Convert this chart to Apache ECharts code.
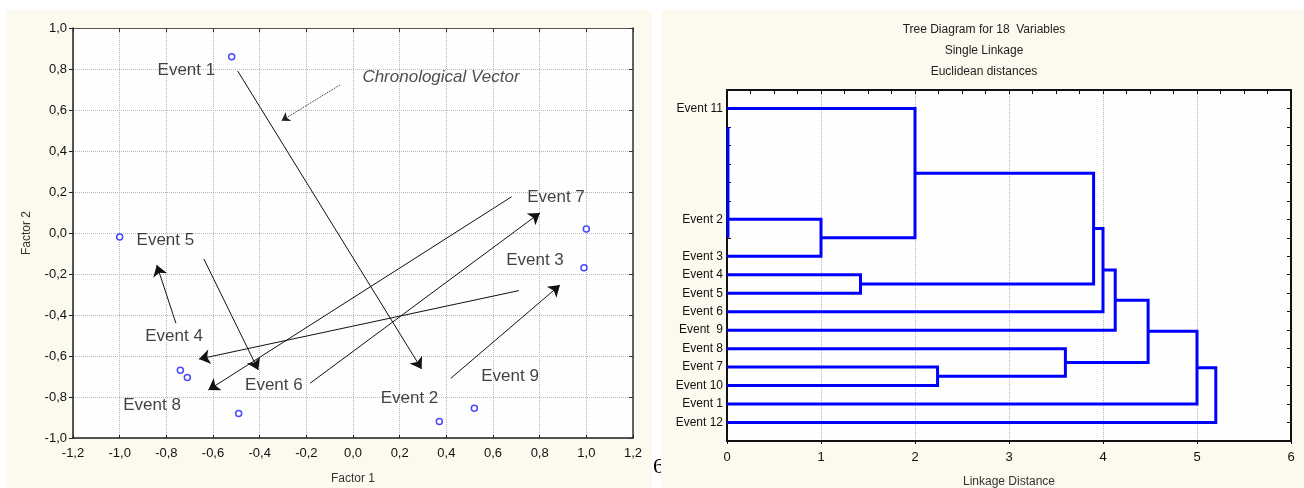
<!DOCTYPE html>
<html><head><meta charset="utf-8">
<script src="https://cdn.jsdelivr.net/npm/echarts@6/dist/echarts.min.js"></script>
<style>html,body{margin:0;padding:0;background:#fff}#c{width:1304px;height:488px}</style>
</head><body><div id="c"></div>
<script>
// ---------- Left panel: factor plot ----------
const pointX = [-0.52, -1.00, 1.00, 0.99, 0.37, 0.52, -0.74, -0.71, -0.49];
const pointY = [0.86, -0.02, 0.02, -0.17, -0.92, -0.855, -0.67, -0.705, -0.88];
const eventNames = ['Event 1', 'Event 2', 'Event 3', 'Event 4', 'Event 5', 'Event 6', 'Event 7', 'Event 8', 'Event 9'];
const eventLabelX = [-0.714, 0.242, 0.780, -0.767, -0.804, -0.339, 0.870, -0.861, 0.673];
const eventLabelY = [0.795, -0.805, -0.132, -0.502, -0.034, -0.741, 0.176, -0.839, -0.698];
// chronological arrows: Event 1->2, 2->3, 3->4, 4->5, 5->6, 6->7, 7->8
const arrowFromX = [-0.494, 0.419, 0.711, -0.759, -0.639, -0.184, 0.680];
const arrowFromY = [0.790, -0.709, -0.281, -0.440, -0.127, -0.733, 0.177];
const arrowToX = [0.294, 0.887, -0.660, -0.841, -0.406, 0.801, -0.620];
const arrowToY = [-0.663, -0.254, -0.615, -0.156, -0.668, 0.098, -0.766];
const captionText = 'Chronological Vector';
const captionPos = [0.377, 0.761];
const captionArrowFrom = [-0.056, 0.722];
const captionArrowTo = [-0.306, 0.548];

// ---------- Right panel: dendrogram ----------
const titleLines = ['Tree Diagram for 18  Variables', 'Single Linkage', 'Euclidean distances'];
// leaf slots, bottom (1) to top (18)
const slotLabels = ['', 'Event 12', 'Event 1', 'Event 10', 'Event 7', 'Event 8', 'Event  9', 'Event 6',
  'Event 5', 'Event 4', 'Event 3', '', 'Event 2', '', '', '', '', '', 'Event 11', ''];
const mergeLeft = ['Event 2', 'Event 4', 'Event 11', 'Event 7', 'Event 8', 'm2', 'm5', 'm6', 'm7', 'm8', 'm9'];
const mergeRight = ['Event 3', 'Event 5', 'm0', 'Event 10', 'm3', 'm1', 'Event 6', 'Event  9', 'm4', 'Event 1', 'Event 12'];
const mergeDist = [1.0, 1.42, 2.0, 2.24, 3.6, 3.9, 4.0, 4.13, 4.48, 5.0, 5.2];
const zeroLinkSpan = [11, 17];

// build dendrogram polylines
const nodePos = {}, nodeH = {};
slotLabels.forEach((l, i) => { if (l) { nodePos[l] = i; nodeH[l] = 0; } });
const dendroLines = [];
mergeDist.forEach((d, i) => {
  const a = mergeLeft[i], b = mergeRight[i];
  const ya = nodePos[a], yb = nodePos[b];
  dendroLines.push({ coords: [[nodeH[a], ya], [d, ya], [d, yb], [nodeH[b], yb]] });
  nodePos['m' + i] = (ya + yb) / 2; nodeH['m' + i] = d;
});
dendroLines.push({ coords: [[0.01, zeroLinkSpan[0]], [0.01, zeroLinkSpan[1]]] });

const FONT = 'Liberation Sans, Arial, sans-serif';
const fmtComma = v => (Math.abs(v) < 1e-9 ? 0 : v).toFixed(1).replace('.', ',');

const chart = echarts.init(document.getElementById('c'), null, { renderer: 'canvas' });
const lblStyle = { color: '#111', fontSize: 13, fontFamily: FONT };

chart.setOption({
  animation: false,
  backgroundColor: '#fff',
  graphic: [
    { type: 'text', z: -20, left: 653, top: 456, style: { text: '6', font: '22px "Liberation Serif", serif', fill: '#000' } },
    { type: 'rect', z: -10, shape: { x: 7, y: 10, width: 645, height: 478 }, style: { fill: '#fcf9ee' } },
    { type: 'rect', z: -10, shape: { x: 661, y: 10, width: 643, height: 478 }, style: { fill: '#fcf9ee' } },
    { type: 'text', x: 984, y: 30, style: { text: titleLines[0], font: '12px ' + FONT, fill: '#222', align: 'center', verticalAlign: 'middle' } },
    { type: 'text', x: 984, y: 51, style: { text: titleLines[1], font: '12px ' + FONT, fill: '#222', align: 'center', verticalAlign: 'middle' } },
    { type: 'text', x: 984, y: 72, style: { text: titleLines[2], font: '12px ' + FONT, fill: '#222', align: 'center', verticalAlign: 'middle' } }
  ],
  grid: [
    { left: 73, top: 28, width: 560, height: 410, show: true, backgroundColor: '#fefefe', borderWidth: 0, containLabel: false, outerBoundsMode: 'none' },
    { left: 727, top: 90, width: 564, height: 351, show: true, backgroundColor: '#fefefe', borderWidth: 0, containLabel: false, outerBoundsMode: 'none' }
  ],
  xAxis: [
    { gridIndex: 0, type: 'value', min: -1.2, max: 1.2, interval: 0.2, position: 'bottom',
      name: 'Factor 1', nameLocation: 'middle', nameGap: 35, nameTextStyle: { color: '#333', fontSize: 12, fontFamily: FONT },
      axisLine: { onZero: false, lineStyle: { color: '#222', width: 1.5 } }, axisTick: { inside: true, length: 3, lineStyle: { color: '#222' } },
      axisLabel: Object.assign({ margin: 9, formatter: fmtComma }, lblStyle),
      splitLine: { show: true, lineStyle: { type: 'dotted', color: '#b8b8b8' } } },
    { gridIndex: 0, type: 'value', min: -1.2, max: 1.2, interval: 0.2, position: 'top',
      axisLine: { onZero: false, lineStyle: { color: '#555', width: 1 } }, axisTick: { inside: true, length: 4, lineStyle: { color: '#333' } },
      axisLabel: { show: false }, splitLine: { show: false } },
    { gridIndex: 1, type: 'value', min: 0, max: 6, interval: 1, position: 'bottom',
      name: 'Linkage Distance', nameLocation: 'middle', nameGap: 35, nameTextStyle: { color: '#333', fontSize: 12, fontFamily: FONT },
      axisLine: { onZero: false, lineStyle: { color: '#111', width: 2 } }, axisTick: { inside: false, length: 3, lineStyle: { color: '#111' } },
      axisLabel: Object.assign({ margin: 10 }, lblStyle),
      splitLine: { show: true, lineStyle: { type: 'dotted', color: '#b8b8b8' } } },
    { gridIndex: 1, type: 'value', min: 0, max: 6, interval: 0.25, position: 'top',
      axisLine: { onZero: false, lineStyle: { color: '#111', width: 2 } }, axisTick: { inside: true, length: 4, lineStyle: { color: '#111' } },
      axisLabel: { show: false }, splitLine: { show: false } }
  ],
  yAxis: [
    { gridIndex: 0, type: 'value', min: -1, max: 1, interval: 0.2, position: 'left',
      name: 'Factor 2', nameLocation: 'middle', nameGap: 40, nameTextStyle: { color: '#333', fontSize: 12, fontFamily: FONT },
      axisLine: { onZero: false, lineStyle: { color: '#222', width: 1.5 } }, axisTick: { inside: false, length: 4, lineStyle: { color: '#222' } },
      axisLabel: Object.assign({ margin: 6, formatter: fmtComma }, lblStyle),
      splitLine: { show: true, lineStyle: { type: 'dotted', color: '#b8b8b8' } } },
    { gridIndex: 0, type: 'value', min: -1, max: 1, interval: 0.2, position: 'right',
      axisLine: { onZero: false, lineStyle: { color: '#333', width: 1.5 } }, axisTick: { inside: true, length: 4, lineStyle: { color: '#333' } },
      axisLabel: { show: false }, splitLine: { show: false } },
    { gridIndex: 1, type: 'value', min: 0, max: 19, interval: 1, position: 'left',
      axisLine: { onZero: false, lineStyle: { color: '#111', width: 2 } }, axisTick: { inside: true, length: 4, lineStyle: { color: '#111' } },
      axisLabel: Object.assign({ margin: 4, formatter: v => slotLabels[Math.round(v)] || '' }, lblStyle, { fontSize: 12 }),
      splitLine: { show: false } },
    { gridIndex: 1, type: 'value', min: 0, max: 19, interval: 1, position: 'right',
      axisLine: { onZero: false, lineStyle: { color: '#111', width: 2 } }, axisTick: { inside: true, length: 4, lineStyle: { color: '#111' } },
      axisLabel: { show: false }, splitLine: { show: false } }
  ],
  series: [
    { type: 'lines', coordinateSystem: 'cartesian2d', xAxisIndex: 0, yAxisIndex: 0,
      symbol: ['none', 'arrow'], symbolSize: 11,
      lineStyle: { color: '#111', width: 1, opacity: 1 },
      data: arrowFromX.map((x, i) => ({ coords: [[x, arrowFromY[i]], [arrowToX[i], arrowToY[i]]] })) },
    { type: 'lines', coordinateSystem: 'cartesian2d', xAxisIndex: 0, yAxisIndex: 0,
      symbol: ['none', 'arrow'], symbolSize: 8,
      lineStyle: { color: '#222', width: 1, type: 'dotted', opacity: 1 },
      data: [{ coords: [captionArrowFrom, captionArrowTo] }] },
    { type: 'scatter', xAxisIndex: 0, yAxisIndex: 0, symbol: 'circle', symbolSize: 6,
      itemStyle: { color: '#ffffff', borderColor: '#1a1aff', borderWidth: 1.5 },
      data: pointX.map((x, i) => [x, pointY[i]]) },
    { type: 'scatter', xAxisIndex: 0, yAxisIndex: 0, symbolSize: 1,
      itemStyle: { color: 'transparent' },
      label: { show: true, position: 'inside', formatter: p => p.name, color: '#111', fontSize: 17, fontFamily: FONT },
      data: eventNames.map((n, i) => ({ name: n, value: [eventLabelX[i], eventLabelY[i]] })) },
    { type: 'scatter', xAxisIndex: 0, yAxisIndex: 0, symbolSize: 1,
      itemStyle: { color: 'transparent' },
      label: { show: true, position: 'inside', formatter: p => p.name, color: '#222', fontSize: 17, fontStyle: 'italic', fontFamily: FONT },
      data: [{ name: captionText, value: captionPos }] },
    { type: 'lines', coordinateSystem: 'cartesian2d', xAxisIndex: 2, yAxisIndex: 2, polyline: true,
      lineStyle: { color: '#0000ff', width: 3, opacity: 1, join: 'miter' },
      data: dendroLines }
  ]
});
</script></body></html>
